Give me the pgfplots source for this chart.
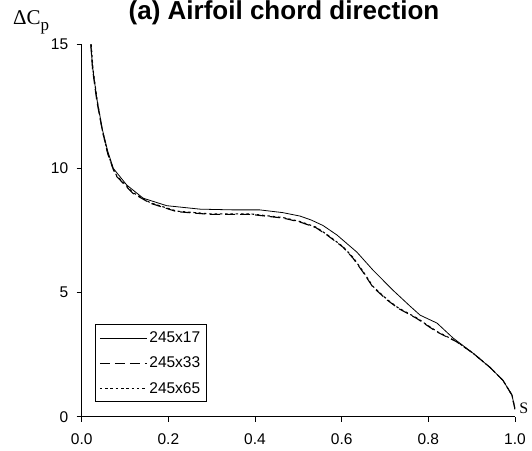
\documentclass[border=0pt]{standalone}
\usepackage{pgfplots}
\pgfplotsset{compat=1.18}
\usepackage{fontspec}
\setmainfont{Liberation Sans}
\newfontfamily\serif{Liberation Serif}
\begin{document}
\begin{tikzpicture}
\useasboundingbox (-81.7bp,-34.3bp) rectangle (450.3bp,416.7bp);
\begin{axis}[
  scale only axis,
  width=433.3bp, height=372.4bp,
  xmin=0, xmax=1, ymin=0, ymax=15,
  axis x line*=bottom, axis y line*=left,
  axis line style={-, line width=0.6pt},
  tick align=outside,
  major tick length=5bp,
  tick style={line width=0.6pt, black},
  xtick={0,0.2,0.4,0.6,0.8,1.0},
  ytick={0,5,10,15},
  /pgf/number format/assume math mode=true,
  xticklabel style={/pgf/number format/fixed, /pgf/number format/precision=1, /pgf/number format/fixed zerofill, yshift=-8bp},
  yticklabel style={xshift=-5bp},
  ticklabel style={font=\fontsize{15.5bp}{17bp}\selectfont},
  legend style={at={(0.0307,0.0395)}, anchor=south west, draw=black, line width=0.6pt,
    font=\fontsize{15.5bp}{17bp}\selectfont, row sep=9bp, inner xsep=4bp, inner ysep=5bp},
  legend cell align=left,
  legend image code/.code={\draw[#1] (0bp,0bp) -- (47bp,0bp);},
  clip=true,
]
\addplot[black, line width=0.8pt] coordinates {
(0.021,15.0) (0.025,14.1) (0.035,12.8) (0.048,11.55) (0.060,10.7) (0.073,10.0)
(0.104,9.33) (0.142,8.8) (0.196,8.5) (0.273,8.36) (0.35,8.33) (0.411,8.33)
(0.464,8.22) (0.504,8.08) (0.530,7.92) (0.557,7.70) (0.589,7.32) (0.635,6.63)
(0.672,5.91) (0.718,5.10) (0.758,4.45) (0.781,4.09) (0.820,3.77) (0.857,3.17)
(0.903,2.56) (0.942,1.99) (0.972,1.47) (0.993,0.87) (1.0,0.3)
};
\addlegendentry{245x17}
\addplot[black, line width=1.1pt, dash pattern=on 10bp off 5bp] coordinates {
(0.021,15.0) (0.025,14.0) (0.035,12.7) (0.048,11.5) (0.060,10.6) (0.073,9.95)
(0.081,9.67) (0.118,9.0) (0.158,8.6) (0.219,8.26) (0.296,8.15) (0.389,8.15)
(0.465,8.0) (0.504,7.84) (0.540,7.62) (0.566,7.32) (0.603,6.83) (0.626,6.39)
(0.649,5.83) (0.672,5.22) (0.705,4.70) (0.730,4.37) (0.773,3.96) (0.819,3.42)
(0.865,3.02) (0.903,2.56) (0.942,1.99) (0.972,1.47) (0.993,0.87) (1.0,0.3)
};
\addlegendentry{245x33}
\addplot[black, line width=1.1pt, dash pattern=on 2.5bp off 2.8bp] coordinates {
(0.022,15.0) (0.026,14.0) (0.036,12.7) (0.048,11.5) (0.060,10.62) (0.073,9.97)
(0.081,9.7) (0.118,9.03) (0.158,8.62) (0.219,8.28) (0.296,8.17) (0.389,8.17)
(0.465,8.02) (0.504,7.86) (0.540,7.64) (0.566,7.34) (0.603,6.85) (0.626,6.42)
(0.649,5.86) (0.672,5.25) (0.705,4.72) (0.730,4.39) (0.773,3.98) (0.819,3.44)
(0.865,3.03) (0.903,2.56) (0.942,1.99) (0.972,1.47) (0.993,0.87) (1.0,0.3)
};
\addlegendentry{245x65}
\end{axis}
\node[anchor=base, font=\fontsize{26bp}{28bp}\selectfont\bfseries] at (202.3bp,397.5bp) {(a) Airfoil chord direction};
\node[anchor=base west, inner sep=0pt, font=\fontsize{21bp}{23bp}\selectfont\serif] at (-68.7bp,391.7bp) {ΔC\raisebox{-6bp}{\fontsize{17bp}{19bp}\selectfont p}};
\node[anchor=base west, inner sep=0pt, font=\fontsize{16bp}{18bp}\selectfont\serif] at (437.5bp,3.2bp) {S};
\end{tikzpicture}
\end{document}
